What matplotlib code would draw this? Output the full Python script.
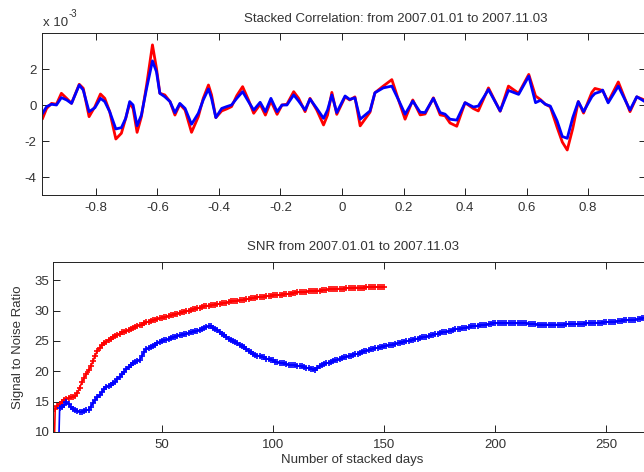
import matplotlib
matplotlib.use("Agg")
import matplotlib.pyplot as plt

plt.rcParams['font.family'] = ['Liberation Sans', 'DejaVu Sans']
plt.rcParams['axes.unicode_minus'] = False

# ---------------- top panel: stacked correlation (x 1e-3) ----------------
lag = [-0.973, -0.960, -0.944, -0.928, -0.912, -0.895, -0.879, -0.854, -0.841, -0.822,
       -0.803, -0.785, -0.771, -0.755, -0.735, -0.717, -0.703, -0.690, -0.679, -0.666,
       -0.652, -0.635, -0.616, -0.603, -0.592, -0.576, -0.559, -0.543, -0.527, -0.510,
       -0.489, -0.467, -0.451, -0.434, -0.424, -0.410, -0.391, -0.375, -0.359, -0.342,
       -0.323, -0.304, -0.287, -0.266, -0.249, -0.231, -0.211, -0.195, -0.179, -0.157,
       -0.141, -0.120, -0.104, -0.082, -0.060, -0.047, -0.033, -0.017, 0.010, 0.025,
       0.042, 0.059, 0.091, 0.107, 0.134, 0.162, 0.183, 0.205, 0.230, 0.254,
       0.270, 0.297, 0.319, 0.335, 0.351, 0.373, 0.400, 0.427, 0.443, 0.476,
       0.514, 0.541, 0.574, 0.607, 0.629, 0.645, 0.661, 0.677, 0.699, 0.716,
       0.732, 0.750, 0.768, 0.785, 0.812, 0.822, 0.838, 0.847, 0.865, 0.898,
       0.936, 0.958, 0.983]
corr_blue = [-0.46, -0.09, 0.04, 0.00, 0.41, 0.28, 0.09, 1.11, 0.83, -0.37,
             -0.15, 0.37, 0.19, -0.37, -1.33, -1.26, -0.74, 0.19, 0.00, -1.15,
             -0.56, 0.93, 2.45, 1.85, 0.65, 0.46, 0.19, -0.43, 0.09, -0.19,
             -1.07, -0.46, 0.28, 0.89, 0.37, -0.70, -0.19, -0.09, 0.00, 0.37,
             0.74, 0.19, -0.28, 0.15, -0.37, 0.37, -0.37, 0.00, 0.00, 0.56,
             0.22, -0.28, 0.33, -0.19, -0.74, -0.28, 0.56, -0.42, 0.50, 0.31,
             0.40, -0.79, -0.33, 0.68, 0.95, 1.05, 0.31, -0.51, 0.22, -0.40,
             -0.42, 0.37, -0.42, -0.51, -0.79, -0.84, 0.13, -0.11, -0.06, 0.86,
             -0.33, 0.81, 0.59, 1.60, 0.13, 0.26, 0.04, -0.06, -0.88, -1.75,
             -1.85, -0.70, 0.19, -0.37, 0.46, 0.64, 0.73, 0.83, 0.12, 1.05,
             -0.28, 0.46, 0.20]
corr_red = [-0.74, -0.19, 0.09, 0.04, 0.65, 0.37, 0.09, 1.15, 0.93, -0.65,
            -0.09, 0.61, 0.37, -0.37, -1.89, -1.57, -0.74, 0.09, -0.19, -1.52,
            -0.65, 1.11, 3.34, 2.04, 0.65, 0.56, 0.19, -0.56, 0.04, -0.28,
            -1.52, -0.65, 0.37, 1.11, 0.56, -0.70, -0.33, -0.22, -0.09, 0.52,
            1.02, 0.28, -0.46, 0.04, -0.56, 0.22, -0.52, 0.00, 0.04, 0.74,
            0.37, -0.37, 0.37, -0.28, -1.11, -0.56, 0.70, -0.52, 0.45, 0.28,
            0.45, -1.16, -0.40, 0.68, 1.05, 1.41, 0.31, -0.79, 0.28, -0.55,
            -0.50, 0.40, -0.55, -0.60, -1.00, -1.18, 0.13, -0.20, -0.33, 0.95,
            -0.35, 1.05, 0.65, 1.70, 0.50, 0.30, 0.04, -0.10, -1.24, -2.06,
            -2.50, -1.30, 0.19, -0.45, 0.70, 0.92, 0.85, 0.80, 0.18, 1.28,
            -0.37, 0.45, 0.28]
top_xticks = [-0.8, -0.6, -0.4, -0.2, 0.0, 0.2, 0.4, 0.6, 0.8]
top_xticklabels = ['-0.8', '-0.6', '-0.4', '-0.2', '0', '0.2', '0.4', '0.6', '0.8']
top_yticks = [-4, -2, 0, 2]
top_title = 'Stacked Correlation: from 2007.01.01 to 2007.11.03'

# ---------------- bottom panel: SNR vs number of stacked days ----------------
snr_red = [0, 13.8, 14.3, 14.6, 14.9, 15.2, 15.5, 15.6, 15.7, 15.8,
           15.9, 16.4, 17.3, 18.2, 18.9, 19.5, 20.2, 20.8, 21.7, 22.6,
           23.4, 23.9, 24.3, 24.6, 24.9, 25.2, 25.4, 25.6, 25.8, 26.0,
           26.2, 26.4, 26.5, 26.6, 26.8, 27.0, 27.2, 27.3, 27.5, 27.6,
           27.7, 27.9, 28.1, 28.2, 28.3, 28.4, 28.5, 28.6, 28.7, 28.8,
           28.9, 29.0, 29.1, 29.2, 29.3, 29.4, 29.5, 29.6, 29.7, 29.8,
           29.9, 30.0, 30.1, 30.2, 30.3, 30.4, 30.5, 30.6, 30.7, 30.8,
           30.8, 30.9, 31.0, 31.0, 31.1, 31.1, 31.2, 31.3, 31.3, 31.4,
           31.5, 31.5, 31.6, 31.6, 31.7, 31.7, 31.8, 31.9, 31.9, 32.0,
           32.1, 32.1, 32.2, 32.3, 32.3, 32.3, 32.4, 32.4, 32.4, 32.5,
           32.5, 32.5, 32.6, 32.6, 32.7, 32.7, 32.8, 32.8, 32.9, 32.9,
           33.0, 33.0, 33.0, 33.1, 33.1, 33.2, 33.2, 33.2, 33.3, 33.3,
           33.3, 33.4, 33.4, 33.4, 33.5, 33.5, 33.5, 33.5, 33.6, 33.6,
           33.6, 33.6, 33.7, 33.7, 33.7, 33.7, 33.8, 33.8, 33.8, 33.8,
           33.8, 33.9, 33.9, 33.9, 33.9, 33.9, 33.9, 33.9, 33.9, 33.9]
snr_blue = [0, 0, 0, 14.0, 14.1, 14.4, 14.9, 14.6, 14.1, 13.8,
            13.6, 13.5, 13.3, 13.3, 13.5, 13.6, 13.7, 14.2, 14.8, 15.3,
            15.7, 16.1, 16.6, 17.1, 17.4, 17.6, 17.8, 18.0, 18.3, 18.7,
            19.1, 19.5, 19.9, 20.3, 20.7, 21.0, 21.3, 21.5, 21.7, 21.9,
            22.5, 23.2, 23.6, 23.8, 24.0, 24.2, 24.4, 24.6, 24.8, 25.0,
            25.1, 25.2, 25.3, 25.5, 25.6, 25.7, 25.8, 25.9, 26.0, 26.1,
            26.2, 26.3, 26.4, 26.5, 26.6, 26.7, 26.8, 27.0, 27.2, 27.3,
            27.4, 27.4, 27.2, 27.0, 26.8, 26.5, 26.2, 25.9, 25.7, 25.4,
            25.2, 25.0, 24.8, 24.6, 24.4, 24.2, 24.0, 23.7, 23.4, 23.1,
            22.9, 22.7, 22.6, 22.5, 22.4, 22.3, 22.1, 22.0, 21.9, 21.8,
            21.6, 21.5, 21.4, 21.3, 21.3, 21.2, 21.1, 21.0, 21.0, 21.0,
            20.9, 20.9, 20.8, 20.7, 20.6, 20.5, 20.4, 20.3, 20.2, 20.5,
            20.8, 21.0, 21.2, 21.3, 21.4, 21.5, 21.7, 21.8, 21.9, 22.0,
            22.2, 22.3, 22.4, 22.5, 22.6, 22.7, 22.8, 22.9, 23.0, 23.2,
            23.3, 23.4, 23.5, 23.6, 23.7, 23.8, 23.9, 24.0, 24.0, 24.1,
            24.2, 24.3, 24.4, 24.4, 24.5, 24.6, 24.7, 24.8, 24.9, 25.0,
            25.0, 25.1, 25.2, 25.3, 25.4, 25.5, 25.6, 25.7, 25.7, 25.8,
            25.9, 26.0, 26.1, 26.2, 26.3, 26.4, 26.5, 26.5, 26.6, 26.7,
            26.8, 26.9, 27.0, 27.0, 27.1, 27.2, 27.2, 27.3, 27.4, 27.4,
            27.5, 27.5, 27.6, 27.6, 27.7, 27.7, 27.8, 27.8, 27.9, 27.9,
            27.9, 27.9, 27.9, 27.9, 27.9, 27.9, 27.9, 27.9, 27.9, 27.9,
            27.9, 27.9, 27.9, 27.9, 27.8, 27.8, 27.8, 27.8, 27.7, 27.7,
            27.7, 27.7, 27.7, 27.7, 27.7, 27.7, 27.7, 27.7, 27.7, 27.7,
            27.7, 27.8, 27.8, 27.8, 27.8, 27.8, 27.8, 27.8, 27.8, 27.8,
            27.9, 27.9, 27.9, 27.9, 28.0, 28.0, 28.0, 28.0, 28.1, 28.1,
            28.1, 28.2, 28.2, 28.2, 28.3, 28.3, 28.3, 28.4, 28.4, 28.4,
            28.5, 28.5, 28.5, 28.6, 28.6, 28.7, 28.7, 28.7, 28.8, 28.8,
            28.8, 28.9, 28.9]
days_red = list(range(1, len(snr_red) + 1))
days_blue = list(range(1, len(snr_blue) + 1))
bot_xticks = [50, 100, 150, 200, 250]
bot_yticks = [10, 15, 20, 25, 30, 35]
bot_title = 'SNR from 2007.01.01 to 2007.11.03'
bot_xlabel = 'Number of stacked days'
bot_ylabel = 'Signal to Noise Ratio'

W, H = 644, 472
fig = plt.figure(figsize=(W / 100, H / 100), dpi=100)
FS = 9.5
TXT = '#333333'

def px(x0, y0, x1, y1):
    return [x0 / W, 1 - y1 / H, (x1 - x0) / W, (y1 - y0) / H]

def style(ax, ypad):
    for s in ax.spines.values():
        s.set_linewidth(0.7)
        s.set_color('#222222')
    ax.tick_params(direction='in', top=True, right=True, length=5, width=0.7,
                   colors='#222222', labelsize=FS, labelcolor=TXT)
    ax.tick_params(axis='x', pad=5)
    ax.tick_params(axis='y', pad=ypad)

# top axes
ax1 = fig.add_axes(px(42, 33, 646, 195))
ax1.plot(lag, corr_red, color='#ff0000', lw=2.0, solid_joinstyle='round')
ax1.plot(lag, corr_blue, color='#0000ff', lw=2.0, solid_joinstyle='round')
ax1.set_xlim(-0.975, 0.988)
ax1.set_ylim(-5, 4)
ax1.set_xticks(top_xticks)
ax1.set_xticklabels(top_xticklabels)
ax1.set_yticks(top_yticks)
ax1.set_yticklabels([str(v) for v in top_yticks])
style(ax1, 4)
fig.text(396 / W, 1 - 19 / H, top_title, ha='center', va='center', fontsize=FS, color=TXT)
fig.text(43 / W, 1 - 23 / H, 'x 10', ha='left', va='center', fontsize=FS, color=TXT)
fig.text(69 / W, 1 - 14 / H, '-3', ha='left', va='center', fontsize=7, color=TXT)

# bottom axes
ax2 = fig.add_axes(px(53, 262, 652, 432))
ax2.plot(days_red, snr_red, color='#ff0000', lw=1.2, marker='+', ms=5, mew=1.2)
ax2.plot(days_blue, snr_blue, color='#0000ff', lw=1.2, marker='+', ms=5, mew=1.2)
ax2.set_xlim(1, 270.5)
ax2.set_ylim(10, 38)
ax2.set_xticks(bot_xticks)
ax2.set_yticks(bot_yticks)
style(ax2, 2.5)
fig.text(353 / W, 1 - 247 / H, bot_title, ha='center', va='center', fontsize=FS, color=TXT)
fig.text(352 / W, 1 - 460 / H, bot_xlabel, ha='center', va='center', fontsize=FS, color=TXT)
fig.text(18 / W, 1 - 347 / H, bot_ylabel, ha='center', va='center', rotation=90, fontsize=FS, color=TXT)

fig.savefig('out.png', dpi=100)
